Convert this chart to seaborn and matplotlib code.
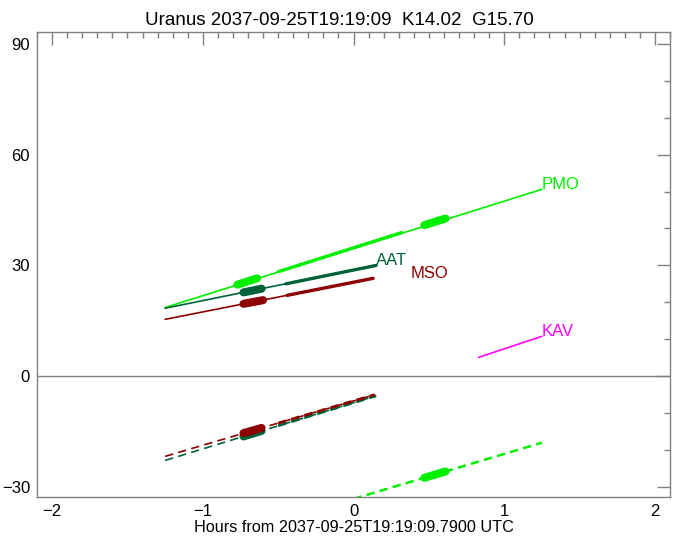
import matplotlib
matplotlib.use("Agg")
import matplotlib.pyplot as plt
import seaborn as sns
import pandas as pd
from matplotlib.ticker import MultipleLocator

# observing tracks, hours from reference time vs elevation (deg)
pmo_hours = [-1.25, 1.25]
pmo_elev = [18.6, 50.6]
aat_hours = [-1.25, 0.15]
aat_elev = [18.4, 30.0]
mso_hours = [-1.25, 0.13]
mso_elev = [15.4, 26.5]
kav_hours = [0.83, 1.25]
kav_elev = [5.1, 10.8]

# thicker stretches along the solid tracks
pmo_mid_hours = [-0.50, 0.32]
pmo_mid_elev = [28.3, 38.9]
pmo_blob1_hours = [-0.77, -0.64]
pmo_blob1_elev = [24.8, 26.5]
pmo_blob2_hours = [0.47, 0.61]
pmo_blob2_elev = [40.9, 42.7]
aat_mid_hours = [-0.45, 0.15]
aat_mid_elev = [25.0, 30.0]
aat_blob_hours = [-0.73, -0.61]
aat_blob_elev = [22.7, 23.7]
mso_mid_hours = [-0.44, 0.13]
mso_mid_elev = [21.9, 26.5]
mso_blob_hours = [-0.73, -0.60]
mso_blob_elev = [19.6, 20.6]

# dashed (below horizon) tracks
pmo_low_hours = [0.0, 1.25]
pmo_low_elev = [-33.2, -18.0]
aat_low_hours = [-1.25, 0.15]
aat_low_elev = [-22.8, -5.3]
mso_low_hours = [-1.25, 0.14]
mso_low_elev = [-21.7, -5.0]
pmo_low_blob_hours = [0.47, 0.61]
pmo_low_blob_elev = [-27.5, -25.8]
aat_low_mid_hours = [-0.50, 0.15]
aat_low_mid_elev = [-13.4, -5.3]
aat_low_blob_hours = [-0.73, -0.61]
aat_low_blob_elev = [-16.3, -14.8]
mso_low_mid_hours = [-0.50, 0.14]
mso_low_mid_elev = [-12.7, -5.0]
mso_low_blob_hours = [-0.73, -0.61]
mso_low_blob_elev = [-15.4, -14.0]

green = "#00f000"
dkgreen = "#006238"
dkred = "#8c0000"
magenta = "#ff00ff"

sns.set_style("white")
plt.rcParams["font.family"] = ["Liberation Sans", "DejaVu Sans"]
plt.rcParams["text.color"] = "black"

fig = plt.figure(figsize=(6.78, 5.44), dpi=100)
ax = fig.add_axes([37 / 678, 47 / 544, 633 / 678, 465 / 544])


def seg(h, e, color, lw, dashed=False):
    df = pd.DataFrame({"h": h, "e": e})
    kw = {}
    if dashed:
        kw["dashes"] = (6.0 / lw, 3.8 / lw)
    sns.lineplot(data=df, x="h", y="e", color=color, linewidth=lw,
                 sort=False, ax=ax, legend=False, **kw)
    ln = ax.lines[-1]
    ln.set_solid_capstyle("round")
    ln.set_dash_capstyle("butt")


ax.axhline(0, color="#808080", lw=1.0)

# solid tracks
seg(pmo_hours, pmo_elev, green, 1.2)
seg(pmo_mid_hours, pmo_mid_elev, green, 2.4)
seg(pmo_blob1_hours, pmo_blob1_elev, green, 5.8)
seg(pmo_blob2_hours, pmo_blob2_elev, green, 5.8)
seg(aat_hours, aat_elev, dkgreen, 1.2)
seg(aat_mid_hours, aat_mid_elev, dkgreen, 2.4)
seg(aat_blob_hours, aat_blob_elev, dkgreen, 5.8)
seg(mso_hours, mso_elev, dkred, 1.2)
seg(mso_mid_hours, mso_mid_elev, dkred, 2.4)
seg(mso_blob_hours, mso_blob_elev, dkred, 5.8)
seg(kav_hours, kav_elev, magenta, 1.2)

# dashed tracks
seg(aat_low_hours, aat_low_elev, dkgreen, 1.2, dashed=True)
seg(aat_low_mid_hours, aat_low_mid_elev, dkgreen, 2.0, dashed=True)
seg(aat_low_blob_hours, aat_low_blob_elev, dkgreen, 5.8)
seg(mso_low_hours, mso_low_elev, dkred, 1.2, dashed=True)
seg(mso_low_mid_hours, mso_low_mid_elev, dkred, 2.0, dashed=True)
seg(mso_low_blob_hours, mso_low_blob_elev, dkred, 5.8)
seg(pmo_low_hours, pmo_low_elev, green, 1.8, dashed=True)
seg(pmo_low_blob_hours, pmo_low_blob_elev, green, 5.8)

# station labels
lab_fs = 12
ax.text(pmo_hours[-1], pmo_elev[-1], "PMO", color=green, fontsize=lab_fs, ha="left", va="baseline")
ax.text(aat_hours[-1], aat_elev[-1], "AAT", color=dkgreen, fontsize=lab_fs, ha="left", va="baseline")
ax.text(0.38, mso_elev[-1], "MSO", color=dkred, fontsize=lab_fs, ha="left", va="baseline")
ax.text(kav_hours[-1], kav_elev[-1], "KAV", color=magenta, fontsize=lab_fs, ha="left", va="baseline")

ax.set_xlim(-2.1, 2.1)
ax.set_ylim(-32.7, 93.2)
ax.xaxis.set_major_locator(MultipleLocator(1))
ax.xaxis.set_minor_locator(MultipleLocator(0.1))
ax.yaxis.set_major_locator(MultipleLocator(30))
ax.yaxis.set_minor_locator(MultipleLocator(10))
ax.tick_params(which="both", direction="in", top=True, right=True,
               color="#808080", labelsize=12, labelcolor="black", width=1)
ax.tick_params(which="major", length=9.5, pad=5)
ax.tick_params(which="minor", length=4.5)
for s in ax.spines.values():
    s.set_color("#808080")
    s.set_linewidth(1)

ax.set_xlabel("Hours from 2037-09-25T19:19:09.7900 UTC", fontsize=11.7,
              labelpad=1, color="black")
ax.set_ylabel("")
ax.set_title("Uranus 2037-09-25T19:19:09  K14.02  G15.70", fontsize=13.5,
             pad=5, x=(339 - 37) / 633, color="black")

fig.savefig("out.png", dpi=100)
